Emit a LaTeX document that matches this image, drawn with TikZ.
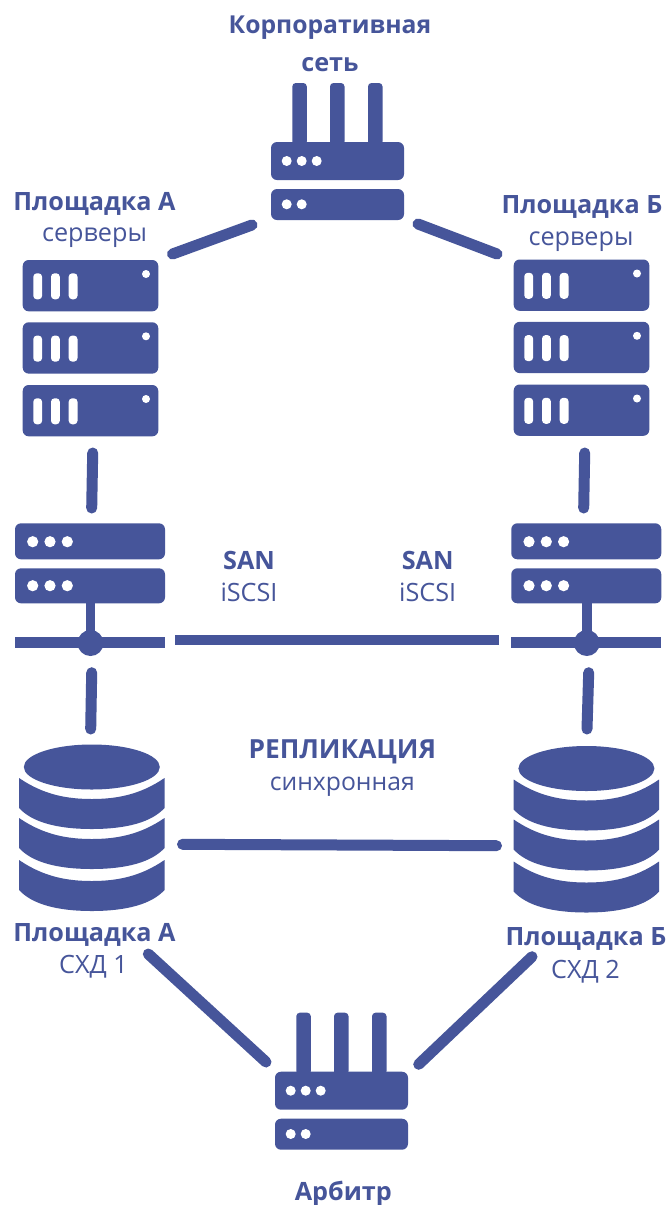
\documentclass[tikz,border=0pt]{standalone}
\usepackage{fontspec}
\setmainfont{Open Sans}
\definecolor{ink}{HTML}{46559A}
\tikzset{
  x=1pt,y=-1pt,
  boxfill/.style={fill=ink,rounded corners=6pt},
  light/.style={fill=white},
  title/.style={text=ink,font=\bfseries\fontsize{25.2}{25.2}\selectfont,anchor=base,inner sep=0pt},
  sub/.style={text=ink,font=\fontsize{25.2}{25.2}\selectfont,anchor=base,inner sep=0pt},
  link/.style={draw=ink,line width=11pt,line cap=round},
  flatlink/.style={draw=ink,line width=10.5pt,line cap=butt},
  router/.pic={
    \foreach \a in {21.3,59,97}{\fill[ink,rounded corners=3.5pt] (\a,-59) rectangle (\a+14.5,3);}
    \fill[boxfill] (0,0) rectangle (133,38);
    \fill[boxfill] (0,47) rectangle (133,78);
    \foreach \a in {15.7,30.7,45.7}{\fill[light] (\a,19) circle (5);}
    \foreach \a in {15.7,30.7}{\fill[light] (\a,62.3) circle (5);}
  },
  serverunit/.pic={
    \fill[boxfill] (0,0) rectangle (135.6,51.3);
    \foreach \a in {10.6,28.3,46}{\fill[light,rounded corners=3.5pt] (\a,13.3) rectangle (\a+8.8,39.3);}
    \fill[light] (123.3,14) circle (4);
  },
  servers/.pic={
    \pic at (0,0) {serverunit};
    \pic at (0,62.3) {serverunit};
    \pic at (0,125) {serverunit};
  },
  switchicon/.pic={
    \fill[ink] (70.8,70) rectangle (80.2,118);
    \fill[boxfill] (0,0) rectangle (150,36);
    \fill[boxfill] (0,45) rectangle (150,80);
    \foreach \a in {17.7,35,52.3}{
      \fill[light] (\a,18.4) circle (5.6);
      \fill[light] (\a,62.4) circle (5.6);
    }
    \fill[ink] (0,114) rectangle (150,124.4);
    \fill[ink] (75.5,119.7) circle (13);
  },
  dbicon/.pic={
    \fill[ink] (0,0) ellipse (68 and 22.5);
    \foreach \t/\b in {11/41,51/81,93/123}{
      \fill[ink] (-72.7,\t) .. controls (-48,{\t+17}) and (-24,{\t+21}) .. (0,{\t+21})
        .. controls (24,{\t+21}) and (48,{\t+17}) .. (72.7,\t)
        -- (72.7,\b) .. controls (60,{\b+14}) and (35,{\b+21}) .. (0,{\b+21})
        .. controls (-35,{\b+21}) and (-60,{\b+14}) .. (-72.7,\b) -- cycle;
    }
  }
}
\begin{document}
\begin{tikzpicture}
\useasboundingbox[fill=white] (0,0) rectangle (667,1205);
% icons
\pic at (271,142) {router};
\pic at (275,1071.7) {router};
\pic at (22.7,260) {servers};
\pic at (513.7,259.5) {servers};
\pic at (15,523.3) {switchicon};
\pic at (511.3,523.3) {switchicon};
\pic at (91.8,767) {dbicon};
\pic at (586.4,768.5) {dbicon};
% connector ends
\coordinate (netL) at (252,225);
\coordinate (srvAtop) at (172.5,254);
\coordinate (netR) at (418,224);
\coordinate (srvBtop) at (497,254);
\coordinate (srvAbot) at (92.7,453);
\coordinate (swAtop) at (91.7,508);
\coordinate (srvBbot) at (584.7,453);
\coordinate (swBtop) at (583.7,508);
\coordinate (swAbot) at (91.7,672.7);
\coordinate (dbAtop) at (90.7,729);
\coordinate (swBbot) at (588.7,672.7);
\coordinate (dbBtop) at (587,729);
\coordinate (sanL) at (175,640);
\coordinate (sanR) at (499,640);
\coordinate (repL) at (182.5,844.3);
\coordinate (repR) at (496.5,845.7);
\coordinate (dbAbot) at (148.3,954);
\coordinate (arbL) at (266,1062);
\coordinate (dbBbot) at (532,956.7);
\coordinate (arbR) at (418.7,1064.3);
% connectors
\draw[link] (srvAtop) -- (netL);
\draw[link] (netR) -- (srvBtop);
\draw[link] (srvAbot) -- (swAtop);
\draw[link] (srvBbot) -- (swBtop);
\draw[link] (swAbot) -- (dbAtop);
\draw[link] (swBbot) -- (dbBtop);
\draw[flatlink] (sanL) -- (sanR);
\draw[link] (repL) -- (repR);
\draw[link] (dbAbot) -- (arbL);
\draw[link] (dbBbot) -- (arbR);
% texts
\node[title,font=\bfseries\fontsize{24.7}{24.7}\selectfont] (tNet1) at (330,33) {Корпоративная};
\node[title] (tNet2) at (330,71) {сеть};
\node[title] (tSrvA) at (94.5,210) {Площадка А};
\node[sub] (tSrvAs) at (94.5,241) {серверы};
\node[title] (tSrvB) at (582,213) {Площадка Б};
\node[sub] (tSrvBs) at (581,245) {серверы};
\node[title] (tSan1) at (249,569) {SAN};
\node[sub] (tSan1s) at (249,601) {iSCSI};
\node[title] (tSan2) at (427.7,569) {SAN};
\node[sub] (tSan2s) at (427.7,601) {iSCSI};
\node[title,font=\bfseries\fontsize{26.3}{26.3}\selectfont] (tRep) at (342.3,758) {РЕПЛИКАЦИЯ};
\node[sub,font=\fontsize{24.7}{24.7}\selectfont] (tReps) at (342.3,790) {синхронная};
\node[title] (tDbA) at (94.5,941) {Площадка А};
\node[sub] (tDbAs) at (93.5,973.5) {СХД 1};
\node[title] (tDbB) at (586,945) {Площадка Б};
\node[sub] (tDbBs) at (585.5,978) {СХД 2};
\node[title] (tArb) at (343.3,1200) {Арбитр};
\end{tikzpicture}
\end{document}
